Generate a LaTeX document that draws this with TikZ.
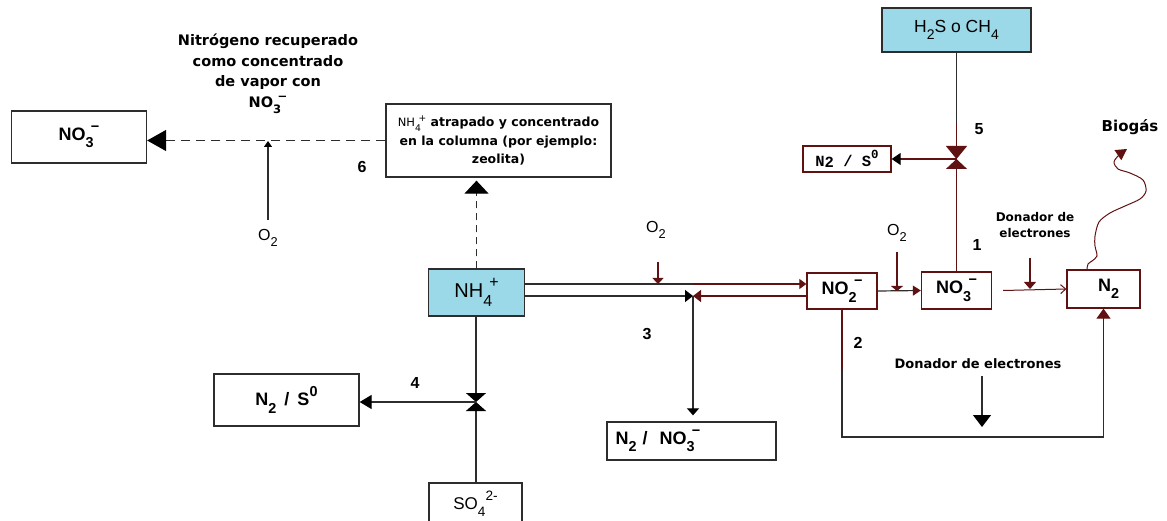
\documentclass[tikz,border=0pt]{standalone}
\usepackage{graphicx}
\usepackage{fontspec}
\setmainfont{Liberation Sans}
\setmonofont{Liberation Mono}
\newfontfamily\rotulo{DejaVu Sans}
\usetikzlibrary{arrows.meta,positioning,calc}
\definecolor{nhblue}{RGB}{155,217,232}
\definecolor{nhred}{RGB}{96,18,18}
\definecolor{nhgray}{RGB}{45,45,45}
% low and high indices, and a charge next to an index
\newcommand{\ind}[1]{\raisebox{-0.42em}{\scalebox{0.8}{#1}}}
\newcommand{\exs}[1]{\raisebox{0.5em}{\scalebox{0.8}{#1}}}
\newcommand{\carga}[2]{\rlap{\ind{#1}}\kern0.3em\exs{#2}}

\begin{document}
\begin{tikzpicture}[
  x=1pt, y=-1pt,
  every node/.style={font=\bfseries\fontsize{18}{20}\selectfont},
  caja/.style={draw=nhgray,line width=1.3pt,inner sep=0pt},
  cajared/.style={caja,draw=nhred},
  etiq/.style={font=\rotulo\bfseries\fontsize{14.5}{20.5}\selectfont,align=center},
  donador/.style={font=\rotulo\bfseries\fontsize{12}{16.5}\selectfont,align=center},
  num/.style={font=\bfseries\fontsize{16}{18}\selectfont},
  gas/.style={font=\mdseries\fontsize{16}{18}\selectfont},
  linea/.style={line width=1.2pt,draw=nhgray},
  lineared/.style={line width=1.2pt,draw=nhred},
  rayas/.style={linea,dash pattern=on 9pt off 6pt},
]
  \useasboundingbox (0,0) rectangle (1167,521);

  % Boxes
  \node[caja,minimum width=135pt,minimum height=52pt] (no3izq) at (79,137) {NO\carga{3}{−}};
  \node[caja,minimum width=225pt,minimum height=73pt,align=center,
        font=\rotulo\bfseries\fontsize{12.5}{18.5}\selectfont] (atrapado) at (498.5,140.5)
    {{\mdseries\fontsize{11.5}{13}\selectfont NH\carga{4}{+}} atrapado y concentrado\\
     en la columna (por ejemplo:\\zeolita)};
  \node[caja,fill=nhblue,minimum width=149pt,minimum height=44pt,
        font=\mdseries\fontsize{17.5}{19}\selectfont] (h2s) at (956.5,30)
    {H\ind{2}S o CH\ind{4}};
  \node[cajared,minimum width=88pt,minimum height=26pt,
        font=\ttfamily\bfseries\fontsize{15.5}{17}\selectfont] (n2sa) at (847,159)
    {N\raisebox{-1.5pt}{2} / S\exs{0}};
  \node[caja,fill=nhblue,minimum width=96pt,minimum height=47pt,
        font=\mdseries\fontsize{20}{22}\selectfont] (nh4) at (476.5,292.5) {NH\carga{4}{+}};
  \node[cajared,minimum width=70pt,minimum height=36pt] (no2) at (842,291) {NO\carga{2}{−}};
  \node[cajared,minimum width=70pt,minimum height=37pt] (no3der) at (956.5,290.5) {NO\carga{3}{−}};
  \node[cajared,minimum width=73pt,minimum height=38pt] (n2der) at (1103.5,289) {\hspace{10pt}N\ind{2}};
  \node[caja,minimum width=145pt,minimum height=52pt] (n2sb) at (286.5,400)
    {N\ind{2}\ \,/\,\ S\exs{0}};
  \node[caja,minimum width=169pt,minimum height=38pt,text width=152pt,align=left] (n2no3) at (691.5,441)
    {N\ind{2}\ /\ \ NO\carga{3}{−}};
  \node[caja,minimum width=93pt,minimum height=42pt,font=\mdseries\fontsize{17}{19}\selectfont]
    (so4) at (475.5,504) {SO\ind{4}\exs{2-}};

  % Labels
  \node[etiq] (recup) at (268,74) {Nitrógeno recuperado\\como concentrado\\de vapor con\\NO\carga{3}{−}};
  \node[gas] (o2izq) at (268,238) {O\ind{2}};
  \node[gas] (o2med) at (656,230) {O\ind{2}};
  \node[gas] (o2der) at (897,233) {O\ind{2}};
  \node[donador] (donsup) at (1035,225) {Donador de\\electrones};
  \node[donador,font=\rotulo\bfseries\fontsize{13}{16}\selectfont] (doninf) at (978,364) {Donador de electrones};
  \node[font=\rotulo\bfseries\fontsize{15}{18}\selectfont] (biogas) at (1130,127) {Biogás};
  \node[num] (n6) at (362,167) {6};
  \node[num] (n5) at (979,129) {5};
  \node[num] (n1) at (977,245) {1};
  \node[num] (n2) at (858,343) {2};
  \node[num] (n3) at (647,334) {3};
  \node[num] (n4) at (415,383) {4};

  % Points
  \coordinate (valv4) at (476,402);
  \coordinate (valv5) at (956.5,159);
  \coordinate (junta) at (693,296);
  \coordinate (cruce6) at (268,141);
  \coordinate (o2izqini) at (268,220);
  \coordinate (o2medini) at (658,262);
  \coordinate (o2medfin) at (658,284);
  \coordinate (o2derini) at (897,252);
  \coordinate (o2derfin) at (897,291);
  \coordinate (donsupini) at (1030,258);
  \coordinate (donsupfin) at (1030,289);
  \coordinate (doninfini) at (982,376);
  \coordinate (doninffin) at (982,427);
  \coordinate (bucle) at (900,437);
  \coordinate (h2smed) at (956.5,123);
  \coordinate (nhsup) at ([yshift=8.5pt]nh4.east);
  \coordinate (nhinf) at ([yshift=-3.5pt]nh4.east);
  \coordinate (no2inf) at ([yshift=-5pt]no2.west);
  \coordinate (gasini) at ([xshift=-16.5pt]n2der.north);

  % Process 6
  \draw[rayas,-{Triangle[length=19pt,width=21pt,color=black]}] (atrapado.west) -- (no3izq.east |- atrapado.west);
  \draw[linea,dash pattern=on 7pt off 5pt,-{Triangle[length=13pt,width=24pt,color=black]}]
    (nh4.north) -- ([yshift=-3pt]nh4.north |- atrapado.south);
  \draw[linea,-{Triangle[length=6pt,width=8pt,color=black]}] (o2izqini) -- (cruce6);

  % Process 4
  \draw[linea,-{Triangle[length=9pt,width=20pt,color=black]}] (nh4.south -| valv4) -- (valv4);
  \draw[linea,-{Triangle[length=9pt,width=20pt,color=black]}] (so4.north -| valv4) -- (valv4);
  \draw[linea,-{Triangle[length=12pt,width=14pt,color=black]}] (valv4) -- (n2sb.east |- valv4);

  % Process 3
  \draw[linea] (nhsup) -- (nhsup -| junta);
  \draw[lineared,-{Triangle[length=7pt,width=10pt]}] (nhsup -| junta) -- (no2.west |- nhsup);
  \draw[lineared,-{Triangle[length=6pt,width=11pt]}] (o2medini) -- (o2medfin);
  \draw[linea,-{Triangle[length=8pt,width=12pt,color=black]}] (nhinf) -- (junta);
  \draw[lineared,-{Triangle[length=8pt,width=12pt]}] (no2inf) -- (junta);
  \draw[linea,-{Triangle[length=7pt,width=12pt,color=black]}] (junta) -- ([yshift=6pt]junta |- n2no3.north);

  % Process 1
  \draw[linea,-{Triangle[length=8pt,width=10pt,color=nhred]}] (no2.east) -- (no3der.west);
  \draw[lineared,-{Triangle[length=5pt,width=12pt]}] (o2derini) -- (o2derfin);
  \draw[lineared,line width=1pt,-{Straight Barb[length=5pt,width=9pt]}]
    ([xshift=11pt]no3der.east) -- (n2der.west);
  \draw[lineared,-{Triangle[length=7pt,width=12pt]}] (donsupini) -- (donsupfin);
  \draw[lineared,line width=1pt,-{Triangle[length=11pt,width=12pt]}] plot[smooth] coordinates
    {(gasini) (1088,264) (1092,261) (1097,256) (1095,246) (1095,236) (1099,222) (1110,213)
     (1125,206) (1140,199) (1146,191) (1143,180) (1130,173) (1118,169) (1114,162) (1119,155) (1127,149)};

  % Process 5
  \draw[linea] (h2s.south) -- (h2smed);
  \draw[lineared,-{Triangle[length=13pt,width=21pt]}] (h2smed) -- (valv5);
  \draw[lineared,-{Triangle[length=10pt,width=21pt]}] (no3der.north) -- (valv5);
  \draw[lineared,-{Triangle[length=9pt,width=12pt,color=black]}] (valv5) -- (n2sa.east);

  % Process 2
  \draw[linea,-{Triangle[length=10pt,width=14pt,color=nhred]}]
    (no2.south) -- (no2.south |- bucle) -- (n2der.south |- bucle) -- (n2der.south);
  \draw[lineared] (no2.south) -- ([yshift=-60pt]no2.south);
  \draw[lineared] ([yshift=-66pt]n2der.south) -- ([yshift=-10pt]n2der.south);
  \draw[linea,-{Triangle[length=12pt,width=18pt,color=black]}] (doninfini) -- (doninffin);
\end{tikzpicture}
\end{document}
